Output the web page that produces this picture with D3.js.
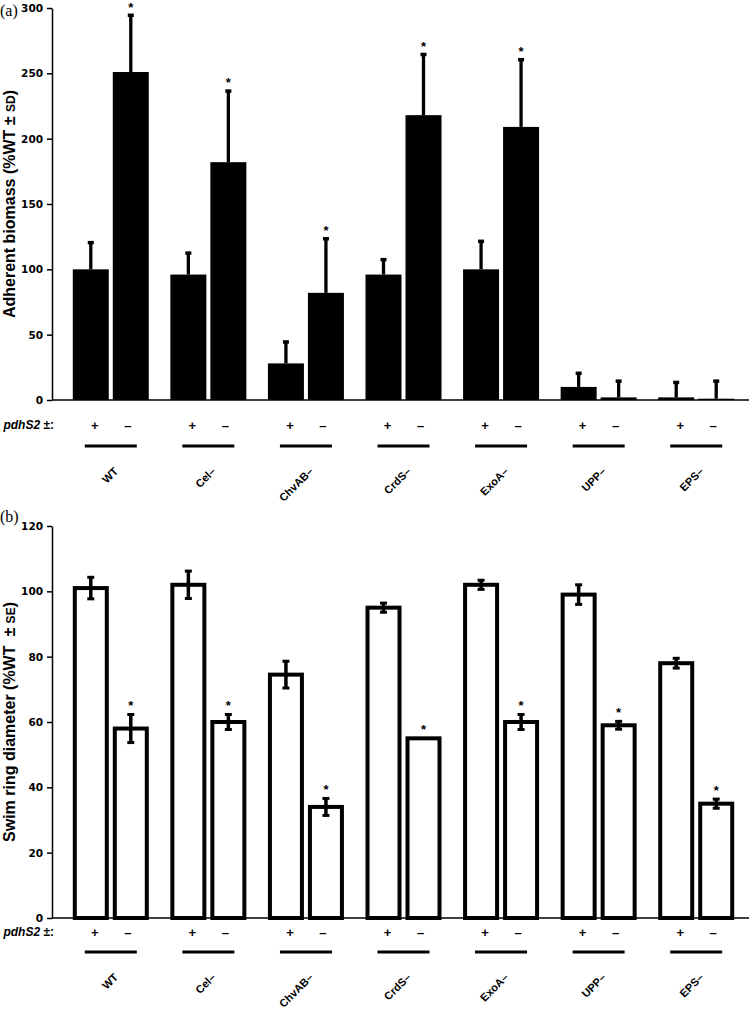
<!DOCTYPE html>
<html><head><meta charset="utf-8">
<script src="https://cdn.jsdelivr.net/npm/d3@7"></script>
<style>body{margin:0;background:#fff} svg{display:block} .pre{white-space:pre}</style>
</head><body><svg id="chart" width="749" height="1011" xmlns="http://www.w3.org/2000/svg"></svg>
<script>
// ---- data ----
const groups = ["WT", "Cel–", "ChvAB–", "CrdS–", "ExoA–", "UPP–", "EPS–"];
const pdhS2States = ["+", "–"];
// panel (a): adherent biomass (%WT ± SD)
const biomassPlus = [100, 96, 28, 96, 100, 10, 2];
const biomassMinus = [251, 182, 82, 218, 209, 2, 1];
const biomassSDPlus = [21, 17, 17, 12, 22, 11, 12];
const biomassSDMinus = [44, 55, 42, 47, 52, 13, 14];
const biomassStarMinus = [1, 1, 1, 1, 1, 0, 0];
const biomassTicks = [0, 50, 100, 150, 200, 250, 300];
// panel (b): swim ring diameter (%WT ± SE)
const swimPlus = [101, 102, 74.5, 95, 102, 99, 78];
const swimMinus = [58, 60, 34, 55, 60, 59, 35];
const swimSEPlus = [3.3, 4.2, 4.1, 1.4, 1.4, 3, 1.5];
const swimSEMinus = [4.3, 2.3, 2.6, 0, 2.3, 1.2, 1.4];
const swimStarMinus = [1, 1, 1, 1, 1, 1, 1];
const swimTicks = [0, 20, 40, 60, 80, 100, 120];

// ---- drawing ----
const svg = d3.select("#chart");
svg.append("rect").attr("width", 749).attr("height", 1011).attr("fill", "#fff");
const FONT = "'Liberation Sans', Arial, sans-serif";

const x = d3.scaleBand().domain(groups).range([62, 745]).padding(0);
const sub = d3.scaleBand().domain(pdhS2States).range([-38, 38]).paddingInner(0.1);

function rowsOf(plus, minus, ep, em, star) {
  const r = [];
  groups.forEach((g, i) => {
    r.push({g, s: "+", v: plus[i], e: ep[i], star: 0});
    r.push({g, s: "–", v: minus[i], e: em[i], star: star[i]});
  });
  return r;
}

function drawPanel(o) {
  const y = d3.scaleLinear().domain(o.domain).range(o.range);
  const g = svg.append("g");
  const rows = rowsOf(o.plus, o.minus, o.ep, o.em, o.star);
  const bx = d => x(d.g) + x.bandwidth() / 2 + sub(d.s);
  const cx = d => bx(d) + sub.bandwidth() / 2;

  // bars
  if (o.filled) {
    g.selectAll("rect.bar").data(rows).join("rect").attr("class", "bar")
      .attr("x", bx).attr("width", sub.bandwidth())
      .attr("y", d => y(d.v)).attr("height", d => y(0) - y(d.v))
      .attr("fill", "#000");
  } else {
    g.selectAll("rect.bar").data(rows).join("rect").attr("class", "bar")
      .attr("x", d => bx(d) + 2).attr("width", sub.bandwidth() - 4)
      .attr("y", d => y(d.v)).attr("height", d => y(0) - y(d.v))
      .attr("fill", "#fff").attr("stroke", "#000").attr("stroke-width", 4);
  }

  // error bars
  const eb = g.selectAll("g.err").data(rows.filter(d => d.e > 0)).join("g").attr("class", "err");
  if (o.oneSided) {
    eb.append("line").attr("x1", cx).attr("x2", cx)
      .attr("y1", d => y(d.v)).attr("y2", d => y(d.v + d.e))
      .attr("stroke", "#000").attr("stroke-width", 3.3);
    eb.append("rect").attr("x", d => cx(d) - 3).attr("width", 6)
      .attr("y", d => y(d.v + d.e) - 1).attr("height", 3.5).attr("fill", "#000");
  } else {
    eb.append("line").attr("x1", cx).attr("x2", cx)
      .attr("y1", d => y(d.v - d.e)).attr("y2", d => y(d.v + d.e))
      .attr("stroke", "#000").attr("stroke-width", 3.5);
    eb.selectAll("line.cap").data(d => [d.v - d.e, d.v + d.e].map(t => ({t, c: cx(d)})))
      .join("line").attr("class", "cap")
      .attr("x1", d => d.c - 3.5).attr("x2", d => d.c + 3.5)
      .attr("y1", d => y(d.t)).attr("y2", d => y(d.t))
      .attr("stroke", "#000").attr("stroke-width", 3);
  }

  // stars
  g.selectAll("text.star").data(rows.filter(d => d.star)).join("text").attr("class", "star")
    .attr("x", cx).attr("y", d => y(d.v + d.e) - o.starGap)
    .attr("text-anchor", "middle").attr("font-family", FONT).attr("font-weight", "bold")
    .attr("font-size", 13).text("*");

  // y axis
  const ax = g.append("g").attr("transform", "translate(52,0)")
    .call(d3.axisLeft(y).tickValues(o.ticks).tickSize(5).tickSizeOuter(0).tickPadding(4));
  ax.select(".domain").attr("stroke-width", 1.5);
  ax.selectAll(".tick line").attr("stroke-width", 1.5);
  ax.selectAll(".tick text").attr("font-family", "'DejaVu Sans', sans-serif")
    .attr("font-weight", "bold").attr("font-size", 10.5).attr("fill", "#000");

  // baseline
  g.append("line").attr("x1", 52).attr("x2", 749).attr("y1", y(0)).attr("y2", y(0))
    .attr("stroke", "#000").attr("stroke-width", 1.5);

  // y title
  const yc = (o.range[0] + o.range[1]) / 2;
  const t = g.append("text").attr("class", "pre").attr("transform", `translate(15,${yc}) rotate(-90)`)
    .attr("text-anchor", "middle").attr("font-family", FONT).attr("font-weight", "bold")
    .attr("font-size", 16);
  t.append("tspan").text(o.title[0]);
  t.append("tspan").attr("font-size", 12).text(o.title[1]);
  t.append("tspan").text(")");

  // panel letter
  g.append("text").attr("x", 0).attr("y", o.letterY).attr("font-family", "'Liberation Serif', serif")
    .attr("font-size", 16).text(o.letter);

  // pdhS2 row
  const lt = g.append("text").attr("class", "pre").attr("x", 54).attr("y", o.signY + 4).attr("text-anchor", "end")
    .attr("font-family", FONT).attr("font-weight", "bold").attr("font-size", 12);
  lt.append("tspan").attr("font-style", "italic").text("pdhS2");
  lt.append("tspan").text(" ±:");

  const k = Math.SQRT1_2;
  groups.forEach(gr => {
    const c = x(gr) + x.bandwidth() / 2;
    pdhS2States.forEach((s, j) => {
      g.append("text").attr("x", c + (j === 0 ? -16 : 17)).attr("y", o.signY + 4.5)
        .attr("text-anchor", "middle").attr("font-family", FONT).attr("font-weight", "bold")
        .attr("font-size", 13).text(s);
    });
    g.append("line").attr("x1", c - 26).attr("x2", c + 26).attr("y1", o.lineY).attr("y2", o.lineY)
      .attr("stroke", "#000").attr("stroke-width", 3);
    const lx = c + 8, ly = o.lineY + 26;
    g.append("text")
      .attr("transform", `matrix(${k},${-k},${k},${k},${lx},${ly})`)
      .attr("text-anchor", "end").attr("font-family", FONT).attr("font-weight", "bold")
      .attr("font-size", 11).text(gr);
  });
}

drawPanel({
  domain: [0, 300], range: [400, 8], ticks: biomassTicks, filled: true, oneSided: true,
  plus: biomassPlus, minus: biomassMinus, ep: biomassSDPlus, em: biomassSDMinus, star: biomassStarMinus,
  starGap: 3, title: ["Adherent biomass (%WT ± ", "SD"], letter: "(a)", letterY: 16,
  signY: 425, lineY: 446
});
drawPanel({
  domain: [0, 120], range: [918, 526], ticks: swimTicks, filled: false, oneSided: false,
  plus: swimPlus, minus: swimMinus, ep: swimSEPlus, em: swimSEMinus, star: swimStarMinus,
  starGap: 4, title: ["Swim ring diameter (%WT  ± ", "SE"], letter: "(b)", letterY: 522,
  signY: 932, lineY: 952
});
</script></body></html>
